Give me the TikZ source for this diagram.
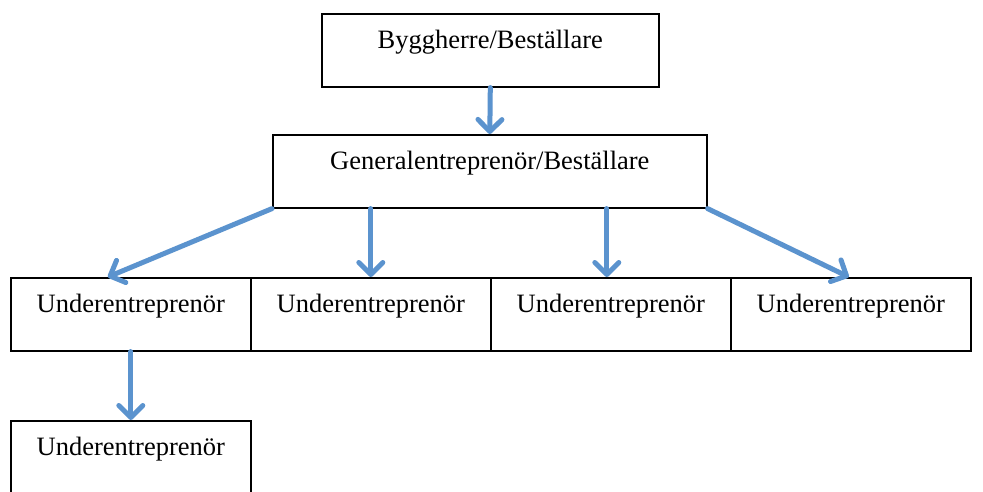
\documentclass[tikz,border=0pt]{standalone}
\usepackage{fontspec}
\setmainfont{Liberation Serif}
\usetikzlibrary{arrows.meta}
\definecolor{pilblaa}{HTML}{5B93CE}
\tikzset{
	ruta/.style={draw=black,line width=1.6pt,rectangle,inner sep=0pt,anchor=north west,
		text height=35pt,text depth=38pt,font=\fontsize{26.5}{31}\selectfont},
	pil/.style={draw=pilblaa,line width=5pt,line cap=round,
		-{Straight Barb[length=12pt,width=24pt,round]}}
}
\begin{document}
\begin{tikzpicture}[x=1pt,y=-1pt]
		\clip (0,0) rectangle (983,491);
		\fill[white] (0,0) rectangle (983,491);
		
		\node[ruta,minimum width=337pt] (bh) at (321,13) {Byggherre/Beställare};
		\node[ruta,minimum width=434pt] (ge) at (272,134) {Generalentreprenör/Beställare};
		\node[ruta,minimum width=240pt] (ue1) at (10,277) {Underentreprenör};
		\node[ruta,minimum width=240pt] (ue2) at (250,277) {Underentreprenör};
		\node[ruta,minimum width=240pt] (ue3) at (490,277) {Underentreprenör};
		\node[ruta,minimum width=240pt] (ue4) at (730,277) {Underentreprenör};
		\node[ruta,minimum width=240pt,text depth=60pt] (ue5) at (10,420) {Underentreprenör};
		
		\draw [pil] (bh.south) -- (ge.north);
		\draw [pil] (ge.south west) -- ([xshift=-23pt]ue1.north);
		\draw [pil] (ue2.north |- ge.south) -- (ue2.north);
		\draw [pil] ([xshift=-4pt]ue3.north |- ge.south) -- ([xshift=-4pt]ue3.north);
		\draw [pil] (ge.south east) -- ([xshift=-2pt]ue4.north);
		\draw [pil] (ue1.south) -- (ue5.north);
	\end{tikzpicture}
\end{document}
